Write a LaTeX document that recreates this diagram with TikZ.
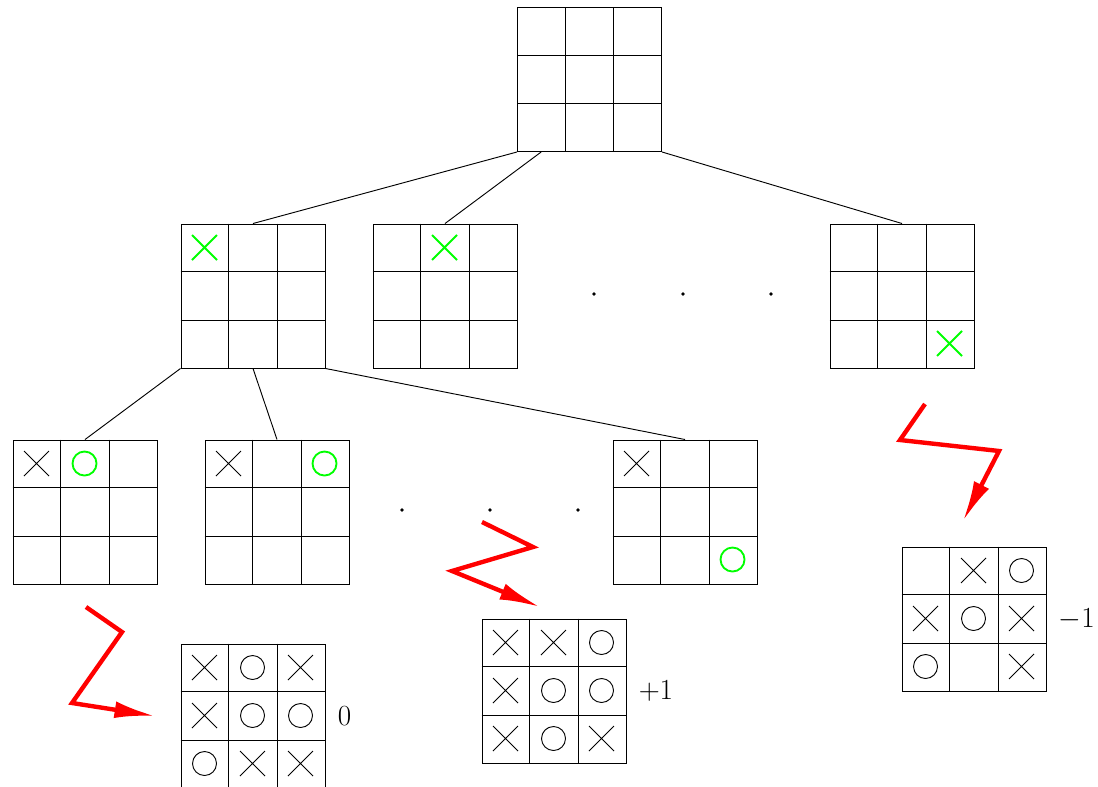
\documentclass[tikz,border=0pt]{standalone}
\usetikzlibrary{arrows.meta, calc, positioning}

% one 3x3 board as a named node
\newcommand{\board}[2]{%
  \node[bd] (#1) at (#2) {};
  \foreach \f in {1,2} {
    \draw ($(#1.north west)!\f/3!(#1.north east)$) -- ($(#1.south west)!\f/3!(#1.south east)$);
    \draw ($(#1.north west)!\f/3!(#1.south west)$) -- ($(#1.north east)!\f/3!(#1.south east)$);
  }}
% crosses and noughts: [style]{board}{column}{row}
\newcommand{\putX}[4][]{%
  \draw[#1] ($(#2.north west)+(48*#3-24,48*#4-24)$) ++(-12.5,-12.5) -- ++(25,25) ++(-25,0) -- ++(25,-25);}
\newcommand{\putO}[4][]{%
  \draw[#1] ($(#2.north west)+(48*#3-24,48*#4-24)$) circle[radius=12];}

\begin{document}
\begin{tikzpicture}[
  x=0.0208333cm, y=-0.0208333cm,
  line width=0.55pt,
  bd/.style={rectangle, draw, minimum size=3cm, inner sep=0pt},
  nw/.style={green, line width=1.1pt},
  zz/.style={red, line width=2.6pt, -{Latex[length=24pt, width=10pt]}},
  lbl/.style={right=5pt of #1, inner sep=2pt},
  font=\fontsize{18.5}{22}\selectfont
]
\useasboundingbox (0,0) rectangle (1098,787);
\board{r}{589.5,79.5}
\board{a}{253,296}
\board{b}{445,296}
\board{c}{902,296}
\board{d}{85,512}
\board{e}{277,512}
\board{f}{685,512}
\board{g}{253,716}
\board{h}{554,691}
\board{i}{974,619}

% new moves
\putX[nw]{a}{1}{1}
\putX[nw]{b}{2}{1}
\putX[nw]{c}{3}{3}
\putX{d}{1}{1} \putO[nw]{d}{2}{1}
\putX{e}{1}{1} \putO[nw]{e}{3}{1}
\putX{f}{1}{1} \putO[nw]{f}{3}{3}

% end positions
\putX{g}{1}{1} \putO{g}{2}{1} \putX{g}{3}{1}
\putX{g}{1}{2} \putO{g}{2}{2} \putO{g}{3}{2}
\putO{g}{1}{3} \putX{g}{2}{3} \putX{g}{3}{3}
\putX{h}{1}{1} \putX{h}{2}{1} \putO{h}{3}{1}
\putX{h}{1}{2} \putO{h}{2}{2} \putO{h}{3}{2}
\putX{h}{1}{3} \putO{h}{2}{3} \putX{h}{3}{3}
\putX{i}{2}{1} \putO{i}{3}{1}
\putX{i}{1}{2} \putO{i}{2}{2} \putX{i}{3}{2}
\putO{i}{1}{3} \putX{i}{3}{3}

\node[lbl=g] (vg) {$0$};
\node[lbl=h] (vh) {$+1$};
\node[lbl=i] (vi) {$-1$};

\draw (r.south west) -- (a.north);
\draw ($(r.south west)!1/6!(r.south east)$) -- (b.north);
\draw (r.south east) -- (c.north);
\draw (a.south west) -- (d.north);
\draw (a.south) -- (e.north);
\draw (a.south east) -- (f.north);

\foreach \x in {594,683,771} \fill (\x,294) circle[radius=1.8];
\foreach \x in {402,490,578} \fill (\x,510) circle[radius=1.8];

\coordinate (z1) at (86,607);
\coordinate (z2) at (482,522);
\coordinate (z3) at (925,404);
\coordinate (t1) at (155,716);
\coordinate (t2) at (540,607);
\coordinate (t3) at (963,521);
\draw[zz] (z1) -- (122,632) -- (72,703) -- (t1);
\draw[zz] (z2) -- (533,547) -- (452,571) -- (t2);
\draw[zz] (z3) -- (900,440) -- (999,451) -- (t3);
\end{tikzpicture}
\end{document}
